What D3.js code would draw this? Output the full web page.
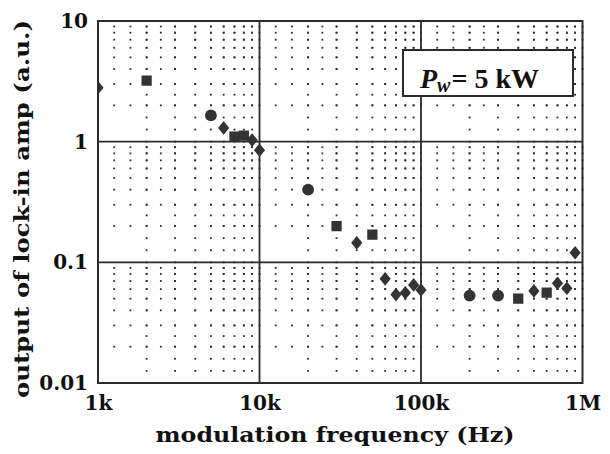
<!DOCTYPE html>
<html><head><meta charset="utf-8">
<script src="https://cdn.jsdelivr.net/npm/d3@7"></script>
<style>body{margin:0;background:#fff} svg{display:block}</style>
</head><body>
<svg id="c" width="610" height="454"></svg>
<script>
// ---- data ----
const freqHz = [1000, 2000, 5000, 6000, 7000, 8000, 9000, 10000, 20000, 30000, 40000, 50000, 60000, 70000, 80000, 90000, 100000, 200000, 300000, 400000, 500000, 600000, 700000, 800000, 900000];
const lockInAmp = [2.8, 3.2, 1.65, 1.3, 1.10, 1.12, 1.03, 0.85, 0.40, 0.20, 0.145, 0.17, 0.073, 0.054, 0.056, 0.065, 0.059, 0.053, 0.053, 0.050, 0.058, 0.056, 0.067, 0.061, 0.12];
const markerShape = ["diamond","square","circle","diamond","square","square","diamond","diamond","circle","square","diamond","square","diamond","diamond","diamond","diamond","diamond","circle","circle","square","diamond","square","diamond","diamond","diamond"];
const xTickValues = [1e3, 1e4, 1e5, 1e6];
const xTickLabels = ["1k", "10k", "100k", "1M"];
const yTickValues = [0.01, 0.1, 1, 10];
const yTickLabels = ["0.01", "0.1", "1", "10"];
const xTitle = "modulation frequency (Hz)";
const yTitle = "output of lock-in amp (a.u.)";
const legendText = ["P", "w", "= 5 kW"];

// ---- layout ----
const L = 98, R = 582.5, T = 21, B = 383;
const svg = d3.select("#c");
const x = d3.scaleLog().domain([1e3, 1e6]).range([L, R]);
const y = d3.scaleLog().domain([0.01, 10]).range([B, T]);
const ink = "#2b2b2b";

// minor grid positions
const xMinor = [], yMinor = [];
[1e3, 1e4, 1e5].forEach(d => { for (let k = 2; k <= 9; k++) xMinor.push(k * d); });
[0.01, 0.1, 1].forEach(d => { for (let k = 2; k <= 9; k++) yMinor.push(k * d); });
const xAll = xTickValues.concat(xMinor).map(x).sort((a, b) => a - b);
const yAll = yTickValues.concat(yMinor).map(y).sort((a, b) => a - b);

const dots = [];
function fill(arr, thr) {
  const out = [];
  for (let i = 0; i < arr.length - 1; i++) {
    const a = arr[i], b = arr[i + 1], g = b - a;
    out.push(a);
    const n = Math.max(1, Math.round(g / thr));
    for (let j = 1; j < n; j++) out.push(a + g * j / n);
  }
  out.push(arr[arr.length - 1]);
  return out;
}
yMinor.forEach(v => fill(xAll, 15).forEach(px => dots.push([px, y(v)])));
xMinor.forEach(v => fill(yAll, 11).forEach(py => dots.push([x(v), py])));

const g = svg.append("g");
g.selectAll("rect.dot").data(dots).join("rect")
  .attr("x", d => d[0] - 0.9).attr("y", d => d[1] - 0.9)
  .attr("width", 1.8).attr("height", 1.8).attr("fill", ink);

// major grid lines
g.selectAll("line.vx").data(xTickValues.slice(1, -1)).join("line")
  .attr("x1", d => x(d)).attr("x2", d => x(d)).attr("y1", T).attr("y2", B)
  .attr("stroke", ink).attr("stroke-width", 1.8);
g.selectAll("line.hy").data(yTickValues.slice(1, -1)).join("line")
  .attr("y1", d => y(d)).attr("y2", d => y(d)).attr("x1", L).attr("x2", R)
  .attr("stroke", ink).attr("stroke-width", 1.8);

// legend box
const lg = svg.append("g");
lg.append("rect").attr("x", 403).attr("y", 50).attr("width", 170).attr("height", 46)
  .attr("fill", "#fff").attr("stroke", ink).attr("stroke-width", 2);
const lt = lg.append("text").attr("x", 420).attr("y", 88)
  .attr("font-family", "'Liberation Serif', serif").attr("font-weight", "bold")
  .attr("font-size", 28).attr("fill", "#111");
lt.append("tspan").attr("font-style", "italic").text(legendText[0]);
lt.append("tspan").attr("font-style", "italic").attr("font-size", 20).attr("dy", 4).text(legendText[1]);
lt.append("tspan").attr("dy", -4).attr("dx", 1).text(legendText[2]);

// markers
svg.append("clipPath").attr("id", "clip").append("rect")
  .attr("x", L).attr("y", T).attr("width", R - L).attr("height", B - T);
const mk = svg.append("g").attr("clip-path", "url(#clip)");
const diamond = "M0,-6.8L5.6,0L0,6.8L-5.6,0Z";
const sq = d3.symbol(d3.symbolSquare, 105)();
const circ = d3.symbol(d3.symbolCircle, 110)();
mk.selectAll("path").data(freqHz.map((f, i) => ({ f, v: lockInAmp[i], s: markerShape[i] })))
  .join("path")
  .attr("transform", d => `translate(${x(d.f)},${y(d.v)})`)
  .attr("d", d => d.s === "square" ? sq : d.s === "circle" ? circ : diamond)
  .attr("fill", "#333");

// frame
svg.append("rect").attr("x", L).attr("y", T).attr("width", R - L).attr("height", B - T)
  .attr("fill", "none").attr("stroke", ink).attr("stroke-width", 2);

// axes
const font = "'DejaVu Serif', serif";
const xa = svg.append("g").attr("transform", `translate(0,${B})`)
  .call(d3.axisBottom(x).tickValues(xTickValues).tickFormat((d, i) => xTickLabels[i]).tickSize(0).tickPadding(13));
xa.select(".domain").remove();
xa.selectAll("text").attr("font-family", font).attr("font-weight", "bold").attr("font-size", 20).attr("fill", "#111");
const ya = svg.append("g").attr("transform", `translate(${L},0)`)
  .call(d3.axisLeft(y).tickValues(yTickValues).tickFormat((d, i) => yTickLabels[i]).tickSize(0).tickPadding(10));
ya.select(".domain").remove();
ya.selectAll("text").attr("font-family", font).attr("font-weight", "bold").attr("font-size", 20).attr("fill", "#111");

svg.append("text").attr("x", 335).attr("y", 442).attr("text-anchor", "middle")
  .attr("font-family", font).attr("font-weight", "bold").attr("font-size", 20).attr("fill", "#111")
  .attr("textLength", 359).attr("lengthAdjust", "spacingAndGlyphs").text(xTitle);
svg.append("text").attr("transform", "translate(29,209) rotate(-90)").attr("text-anchor", "middle")
  .attr("font-family", font).attr("font-weight", "bold").attr("font-size", 20).attr("fill", "#111")
  .attr("textLength", 378).attr("lengthAdjust", "spacingAndGlyphs").text(yTitle);
</script>
</body></html>
